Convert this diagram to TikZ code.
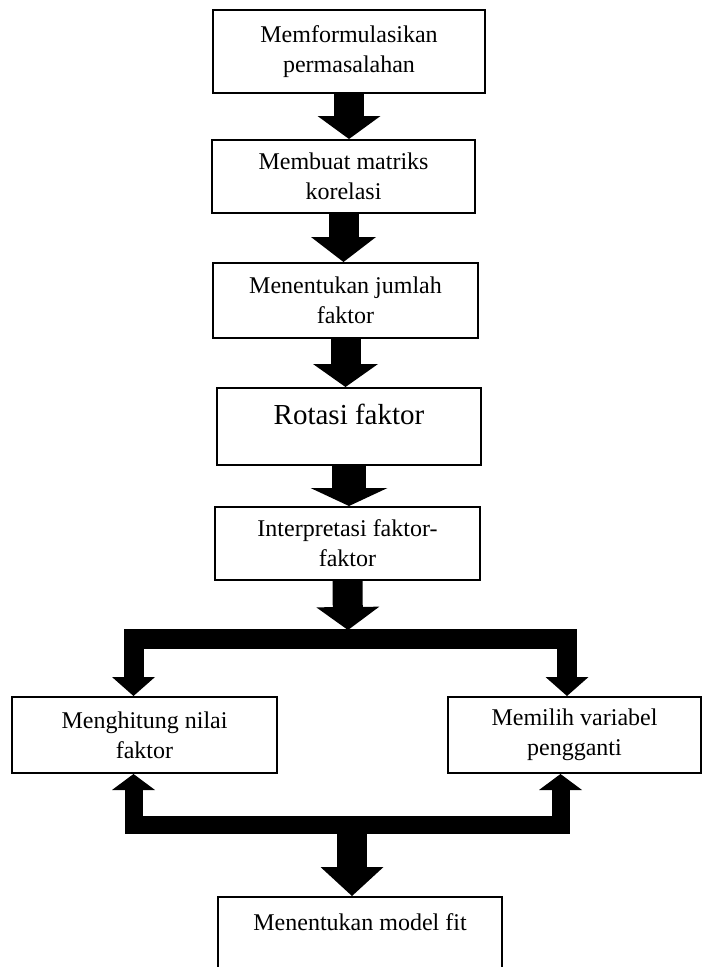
\documentclass[tikz,border=0pt]{standalone}
\usepackage{fontspec}
\setmainfont{Liberation Serif}
\usetikzlibrary{arrows.meta, positioning}

\tikzset{
  stepbox/.style={draw, line width=2pt, align=center, inner sep=0pt,
    font=\fontsize{24}{30}\selectfont},
  fatarrow/.style={line width=30pt, -{Triangle[width=63pt, length=23pt, line width=0pt]}},
  branch/.style={line width=20pt, line join=miter,
    {Triangle[width=43pt, length=19pt, line width=0pt]}-{Triangle[width=43pt, length=19pt, line width=0pt]}}
}

\begin{document}
\begin{tikzpicture}[x=1pt, y=-1pt]
    \useasboundingbox (0,0) rectangle (702,967);

    % main column
    \node[stepbox, minimum width=272pt, minimum height=83pt] (formulasi) at (349,51.5)
      {Memformulasikan\\permasalahan};
    \node[stepbox, minimum width=263pt, minimum height=73pt] (korelasi) at (343.5,176.5)
      {Membuat matriks\\korelasi};
    \node[stepbox, minimum width=265pt, minimum height=75pt] (jumlah) at (345.5,300.5)
      {Menentukan jumlah\\faktor};
    \node[stepbox, minimum width=264pt, minimum height=77pt, text height=20pt, text depth=24pt,
      font=\fontsize{29}{34}\selectfont] (rotasi) at (349,426.5) {Rotasi faktor};
    \node[stepbox, minimum width=265pt, minimum height=73pt] (interp) at (347.5,543.5)
      {Interpretasi faktor-\\faktor};

    % the two branches
    \node[stepbox, minimum width=265pt, minimum height=76pt] (hitung) at (144.5,735)
      {Menghitung nilai\\faktor};
    \node[stepbox, minimum width=253pt, minimum height=76pt] (pilih) at (574.5,735)
      {Memilih variabel\\pengganti};
    \node[stepbox, minimum width=284pt, minimum height=110pt, text height=17pt, text depth=60pt]
      (model) at (360,952) {Menentukan model fit};

    \coordinate (split) at (348,639);
    \coordinate (merge) at (352,825);

    \draw[fatarrow] (formulasi.south) -- (formulasi.south |- korelasi.north);
    \draw[fatarrow, -{Triangle[width=65pt, length=25pt, line width=0pt]}]
      (korelasi.south) -- (korelasi.south |- jumlah.north);
    \draw[fatarrow, -{Triangle[width=65pt, length=23pt, line width=0pt]}]
      (jumlah.south) -- (jumlah.south |- rotasi.north);
    \draw[fatarrow, line width=34pt, -{Triangle[width=77pt, length=18pt, line width=0pt]}]
      (rotasi.south) -- (rotasi.south |- interp.north);
    \draw[fatarrow] (interp.south) -- ([yshift=9pt]split);

    \draw[branch] ([xshift=-11pt]hitung.north) |- (split) -| ([xshift=-7.5pt]pilih.north);
    \draw[branch, line width=18pt,
      {Triangle[width=43pt, length=16pt, line width=0pt]}-{Triangle[width=43pt, length=16pt, line width=0pt]}]
      ([xshift=-11pt]hitung.south) |- (merge) -| ([xshift=-14pt]pilih.south);
    \draw[fatarrow, -{Triangle[width=63pt, length=29pt, line width=0pt]}]
      (merge) -- (merge |- model.north);
\end{tikzpicture}
\end{document}
